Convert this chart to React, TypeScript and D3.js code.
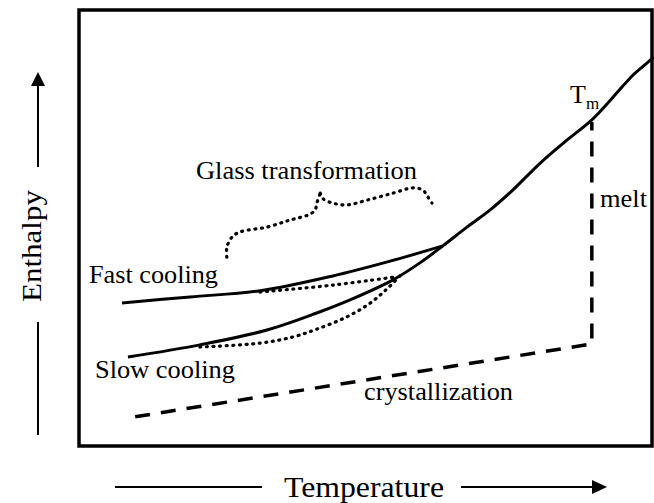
import React from "react";
import * as d3 from "d3";

// Temperature (x) and enthalpy (y), arbitrary units 0–100
const liquidT = [8.55, 21.1, 32.8, 41.5, 47.3, 54.8, 59.5, 63.5, 67.7, 71.7, 75.7, 80.5, 85.2, 89.5, 93.2, 96.7, 99.1, 100.3];
const liquidH = [20.4, 23.2, 26.6, 30.5, 33.5, 38.1, 42.0, 45.9, 50.2, 54.1, 58.7, 64.9, 70.2, 74.8, 80.0, 85.1, 87.8, 89.2];

const fastT = [7.5, 19.4, 31.6, 44.3, 54.3, 63.5];
const fastH = [32.8, 34.2, 35.6, 39.0, 42.4, 45.9];

const fastGlassT = [31.6, 44.3, 55.3];
const fastGlassH = [35.3, 36.9, 38.8];

const slowGlassT = [21.1, 31.6, 37.3, 41.5, 46.4, 50.3, 53.4, 56.5];
const slowGlassH = [22.7, 23.6, 25.0, 26.8, 29.4, 32.3, 35.6, 39.7];

const braceLeftT = [25.8, 25.8, 26.7, 28.1, 32.8, 36.8, 40.0, 41.2, 41.5, 42.1];
const braceLeftH = [43.3, 45.6, 47.9, 49.1, 50.2, 51.8, 53.0, 54.1, 55.7, 58.0];
const braceRightT = [42.1, 42.6, 44.3, 46.8, 50.3, 54.8, 58.3, 60.0, 60.9, 61.6];
const braceRightH = [58.0, 56.7, 55.7, 55.3, 56.4, 58.0, 59.2, 58.7, 57.1, 55.7];

const crystalT = [9.8, 89.5, 89.5];
const crystalH = [6.7, 23.4, 74.3];

const labels = {
  glass: "Glass transformation",
  fast: "Fast cooling",
  slow: "Slow cooling",
  crystal: "crystallization",
  melt: "melt",
  tm: "T",
  tmSub: "m",
  xTitle: "Temperature",
  yTitle: "Enthalpy",
};

const W = 654;
const H = 503;
const frame = { left: 79, top: 10, right: 652, bottom: 446 };

const x = d3.scaleLinear().domain([0, 100]).range([frame.left, frame.right]);
const y = d3.scaleLinear().domain([0, 100]).range([frame.bottom, frame.top]);

const zip = (a: number[], b: number[]) => a.map((v, i) => [v, b[i]] as [number, number]);

const smooth = d3
  .line<[number, number]>()
  .x((d) => x(d[0]))
  .y((d) => y(d[1]))
  .curve(d3.curveCatmullRom.alpha(0.5));
const straight = d3
  .line<[number, number]>()
  .x((d) => x(d[0]))
  .y((d) => y(d[1]));

const font = "'Liberation Serif', 'Times New Roman', serif";

export default function App() {
  const dotted = {
    fill: "none",
    stroke: "#000",
    strokeWidth: 3.2,
    strokeLinecap: "round" as const,
    strokeDasharray: "1 5.6",
  };
  const solid = { fill: "none", stroke: "#000", strokeWidth: 3, strokeLinejoin: "round" as const };
  return (
    <svg
      width={W}
      height={H}
      viewBox={`0 0 ${W} ${H}`}
      style={{ position: "absolute", left: 0, top: 0, background: "#fff" }}
      fontFamily={font}
    >
      <rect
        x={frame.left}
        y={frame.top}
        width={frame.right - frame.left}
        height={frame.bottom - frame.top}
        fill="none"
        stroke="#000"
        strokeWidth={3.5}
      />
      {/* curves */}
      <path d={smooth(zip(liquidT, liquidH)) || ""} {...solid} />
      <path d={smooth(zip(fastT, fastH)) || ""} {...solid} />
      <path d={smooth(zip(fastGlassT, fastGlassH)) || ""} {...dotted} />
      <path d={smooth(zip(slowGlassT, slowGlassH)) || ""} {...dotted} />
      <path d={smooth(zip(braceLeftT, braceLeftH)) || ""} {...dotted} />
      <path d={smooth(zip(braceRightT, braceRightH)) || ""} {...dotted} />
      <path
        d={straight(zip(crystalT, crystalH)) || ""}
        fill="none"
        stroke="#000"
        strokeWidth={3.5}
        strokeDasharray="15 11"
      />

      {/* labels */}
      <text x={196} y={179} fontSize={26} textLength={221} lengthAdjust="spacingAndGlyphs">
        {labels.glass}
      </text>
      <text x={89} y={283} fontSize={26} textLength={129} lengthAdjust="spacingAndGlyphs">
        {labels.fast}
      </text>
      <text x={95} y={378} fontSize={26} textLength={140} lengthAdjust="spacingAndGlyphs">
        {labels.slow}
      </text>
      <text x={364} y={400} fontSize={26} textLength={149} lengthAdjust="spacingAndGlyphs">
        {labels.crystal}
      </text>
      <text x={600} y={207} fontSize={26} textLength={47} lengthAdjust="spacingAndGlyphs">
        {labels.melt}
      </text>
      <text x={570} y={103} fontSize={26}>
        {labels.tm}
      </text>
      <text x={586} y={109} fontSize={17}>
        {labels.tmSub}
      </text>

      {/* x axis title with arrows */}
      <line x1={115} y1={487} x2={262} y2={487} stroke="#000" strokeWidth={2} />
      <line x1={461} y1={487} x2={594} y2={487} stroke="#000" strokeWidth={2} />
      <path d="M592,480 L607,487 L592,494 Z" fill="#000" />
      <text x={284} y={497} fontSize={30} textLength={160} lengthAdjust="spacingAndGlyphs">
        {labels.xTitle}
      </text>

      {/* y axis title with arrows */}
      <line x1={38} y1={435} x2={38} y2={322} stroke="#000" strokeWidth={2} />
      <line x1={38} y1={167} x2={38} y2={84} stroke="#000" strokeWidth={2} />
      <path d="M31,86 L38,72 L45,86 Z" fill="#000" />
      <text
        transform="translate(41,246) rotate(-90)"
        textAnchor="middle"
        fontSize={28}
        textLength={112}
        lengthAdjust="spacingAndGlyphs"
      >
        {labels.yTitle}
      </text>
    </svg>
  );
}
